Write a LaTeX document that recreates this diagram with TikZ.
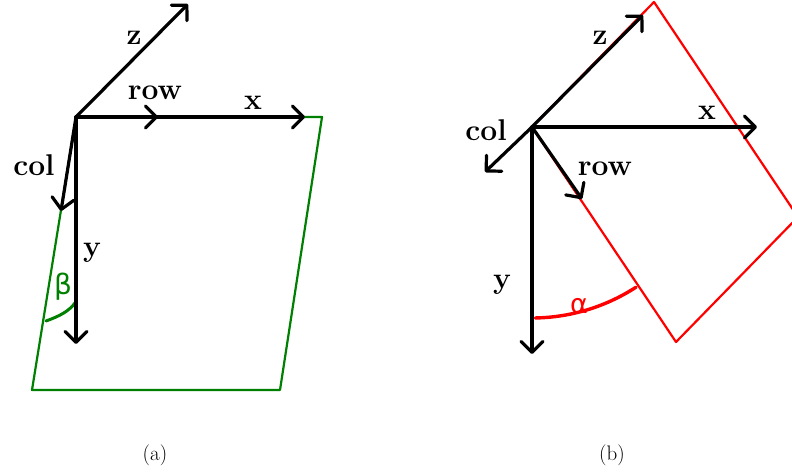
\documentclass[tikz,border=0pt]{standalone}
\usepackage{fontspec}
\newfontfamily\grk{DejaVu Sans}
\usetikzlibrary{arrows.meta}
\definecolor{pgreen}{RGB}{0,128,0}
\tikzset{
  axis/.style={line width=3.2pt, line cap=round, -{Straight Barb[length=11pt,width=22pt,line width=3.2pt,round]}},
  lbl/.style={font=\fontsize{30}{30}\selectfont\bfseries, anchor=base, inner sep=0pt},
  gedge/.style={draw=pgreen, line width=2.2pt},
  redge/.style={draw=red, line width=2.2pt},
  captext/.style={font=\fontsize{21}{21}\selectfont, inner sep=0pt}
}
\begin{document}
\begin{tikzpicture}[x=1pt,y=-1pt]
\useasboundingbox (0,0) rectangle (792,476);
\clip (0,0) rectangle (792,476);
% ---------- panel (a) ----------
\coordinate (Oa) at (76,117);
\coordinate (Pa) at (322,117);
\coordinate (Qa) at (280,390);
\coordinate (Ra) at (32,390);
\coordinate (za) at (188,4);
\coordinate (xa) at (305,117);
\coordinate (rowa) at (158,117);
\coordinate (cola) at (61,211);
\coordinate (ya) at (76,344);
\draw[gedge, line join=round] (Oa) -- (Pa) -- (Qa) -- (Ra) -- cycle;
\draw[pgreen, line width=3pt, line cap=round] (46,321) .. controls (60,316) and (69,311) .. (75,303);
\node[text=pgreen, font=\grk\fontsize{28}{28}\selectfont, inner sep=0pt] (beta) at (63,287) {β};
\draw[axis] (Oa) -- (za);
\draw[axis] (Oa) -- (xa);
\draw[axis] (Oa) -- (rowa);
\draw[axis] (Oa) -- (cola);
\draw[axis] (Oa) -- (ya);
\node[lbl] (lza) at (134,45) {z};
\node[lbl] (lrowa) at (155,100) {row};
\node[lbl] (lxa) at (253,110) {x};
\node[lbl] (lcola) at (34,175) {col};
\node[lbl] (lya) at (92,256) {y};
% ---------- panel (b) ----------
\coordinate (Ob) at (532,127);
\coordinate (Bb) at (654,2);
\coordinate (Cb) at (798,217);
\coordinate (Db) at (676,342);
\coordinate (zb) at (643,15);
\coordinate (xb) at (757,127);
\coordinate (colb) at (485,172);
\coordinate (rowb) at (582,199);
\coordinate (yb) at (532,354);
\draw[redge, line join=round] (Ob) -- (Bb) -- (Cb) -- (Db) -- cycle;
\draw[red, line width=3.4pt, line cap=round] plot[domain=57:89, samples=40] ({532+191*cos(\x)},{127+191*sin(\x)});
\node[text=red, font=\grk\fontsize{27}{27}\selectfont, inner sep=0pt, anchor=base] (alpha) at (579,313) {α};
\draw[axis] (Ob) -- (zb);
\draw[axis] (Ob) -- (xb);
\draw[axis] (Ob) -- (colb);
\draw[axis] (Ob) -- (rowb);
\draw[axis] (Ob) -- (yb);
\node[lbl] (lzb) at (600,45) {z};
\node[lbl] (lcolb) at (486,140) {col};
\node[lbl] (lxb) at (707,120) {x};
\node[lbl] (lrowb) at (605,175) {row};
\node[lbl] (lyb) at (502,288) {y};
% ---------- captions ----------
\node[captext] (capa) at (155,455) {(a)};
\node[captext] (capb) at (612,455) {(b)};
\end{tikzpicture}
\end{document}
